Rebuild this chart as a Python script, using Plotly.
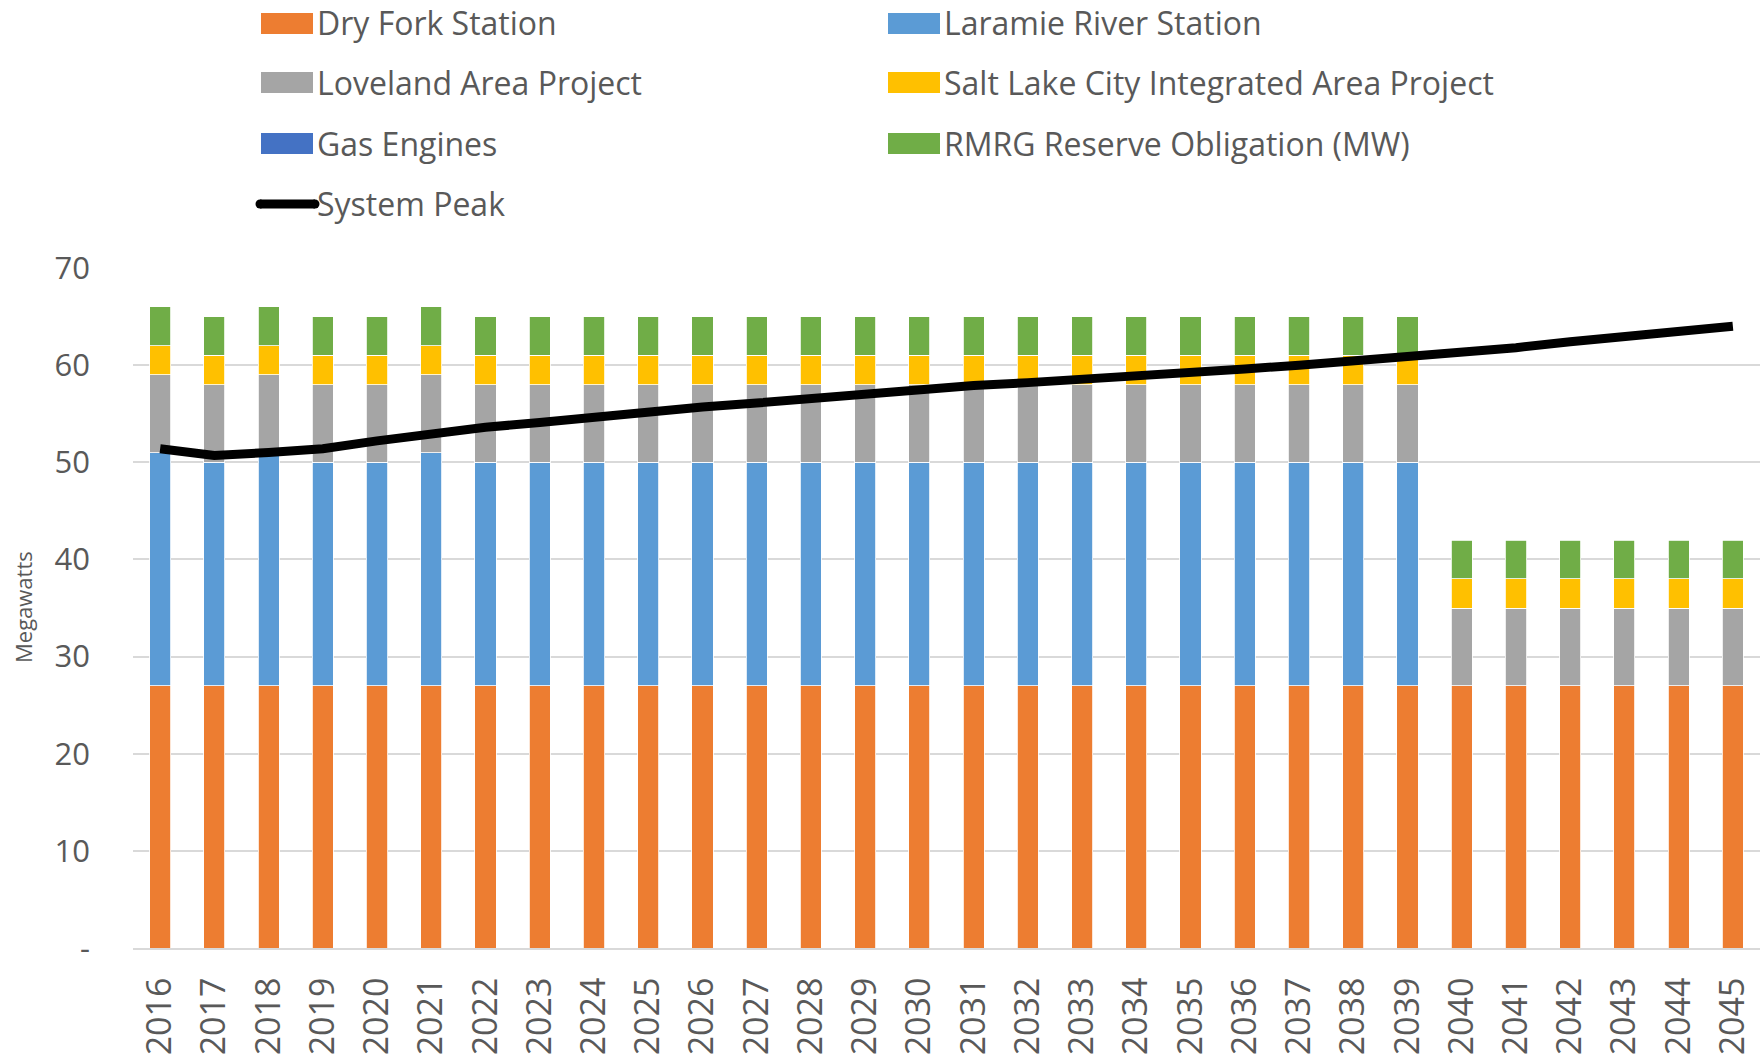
import plotly.graph_objects as go

years = [str(y) for y in range(2016, 2046)]
dry_fork = [27] * 30
laramie = [24, 23, 24, 23, 23, 24] + [23] * 18 + [0] * 6
loveland = [8] * 30
slc = [3] * 30
gas_engines = [0] * 30
rmrg = [4] * 30
system_peak = [51.4, 50.7, 51.0, 51.4, 52.2, 53.0, 53.6, 54.1, 54.7, 55.2,
               55.7, 56.1, 56.6, 57.0, 57.5, 57.9, 58.2, 58.5, 58.9, 59.2,
               59.6, 60.0, 60.4, 60.9, 61.3, 61.8, 62.4, 62.9, 63.4, 64.0]

ytick_vals = [0, 10, 20, 30, 40, 50, 60, 70]
ytick_text = ["-", "10", "20", "30", "40", "50", "60", "70"]

FONT = "Open Sans"
GREY_TXT = "#595959"
W, H = 1763, 1061
ML, MR, MT, MB = 133, 3, 268, 113
PW, PH = W - ML - MR, H - MT - MB


def px_x(px):
    return (px - ML) / PW


def px_y(py):
    return (H - MB - py) / PH


fig = go.Figure()
series = [
    ("Dry Fork Station", dry_fork, "#ED7D31"),
    ("Laramie River Station", laramie, "#5B9BD5"),
    ("Loveland Area Project", loveland, "#A5A5A5"),
    ("Salt Lake City Integrated Area Project", slc, "#FFC000"),
    ("Gas Engines", gas_engines, "#4472C4"),
    ("RMRG Reserve Obligation (MW)", rmrg, "#70AD47"),
]
for name, vals, col in series:
    fig.add_trace(go.Bar(x=years, y=vals, name=name, marker_color=col,
                         marker_line=dict(color="white", width=0.8)))
fig.add_trace(go.Scatter(x=years, y=system_peak, name="System Peak", mode="lines",
                         line=dict(color="black", width=9)))

# Custom legend (two columns) to mirror the original layout
row_y = [23, 82, 143, 204]
col_x = [261, 888]
entries = [(n, c, "bar") for n, _, c in series] + [("System Peak", "black", "line")]
shapes = []
annotations = []
for i, (name, col, kind) in enumerate(entries):
    r, c = divmod(i, 2)
    x0 = col_x[c]
    yc = row_y[r]
    if kind == "bar":
        shapes.append(dict(type="rect", xref="paper", yref="paper",
                           x0=px_x(x0), x1=px_x(x0 + 52), y0=px_y(yc - 10), y1=px_y(yc + 11),
                           fillcolor=col, line=dict(width=0)))
    else:
        shapes.append(dict(type="line", xref="paper", yref="paper",
                           x0=px_x(x0 - 1), x1=px_x(x0 + 54), y0=px_y(yc), y1=px_y(yc),
                           line=dict(color=col, width=9)))
        for cx in (x0 - 1, x0 + 54):
            shapes.append(dict(type="circle", xref="paper", yref="paper",
                               x0=px_x(cx - 4.5), x1=px_x(cx + 4.5),
                               y0=px_y(yc + 4.5), y1=px_y(yc - 4.5),
                               fillcolor=col, line=dict(width=0)))
    annotations.append(dict(text=name, xref="paper", yref="paper", x=px_x(x0 + 54),
                            y=px_y(yc), xanchor="left", yanchor="middle", showarrow=False,
                            font=dict(size=32, color=GREY_TXT, family=FONT)))

# Y-axis title
annotations.append(dict(text="Megawatts", xref="paper", yref="paper", x=px_x(23), y=px_y(607),
                        xanchor="center", yanchor="middle", textangle=-90, showarrow=False,
                        font=dict(size=22, color=GREY_TXT, family=FONT)))

fig.update_layout(
    width=W, height=H,
    barmode="stack", bargap=0.61,
    plot_bgcolor="white", paper_bgcolor="white",
    margin=dict(l=ML, r=MR, t=MT, b=MB, autoexpand=False),
    font=dict(family=FONT, color=GREY_TXT),
    showlegend=False,
    shapes=shapes,
    annotations=annotations,
    yaxis=dict(range=[0, 70], tickvals=ytick_vals, ticktext=ytick_text,
               showgrid=True, gridcolor="#D9D9D9", gridwidth=2, zeroline=False,
               tickfont=dict(size=31, color=GREY_TXT),
               ticks="", ticklabelstandoff=42, automargin=False),
    xaxis=dict(type="category", tickangle=-90, tickfont=dict(size=34, color=GREY_TXT),
               showline=True, linecolor="#D9D9D9", linewidth=2, ticks="",
               ticklabelstandoff=14, automargin=False),
)
fig.write_html("out.html", config={"displayModeBar": False},
               post_script="document.body.style.margin='0';document.body.style.overflow='hidden';")
